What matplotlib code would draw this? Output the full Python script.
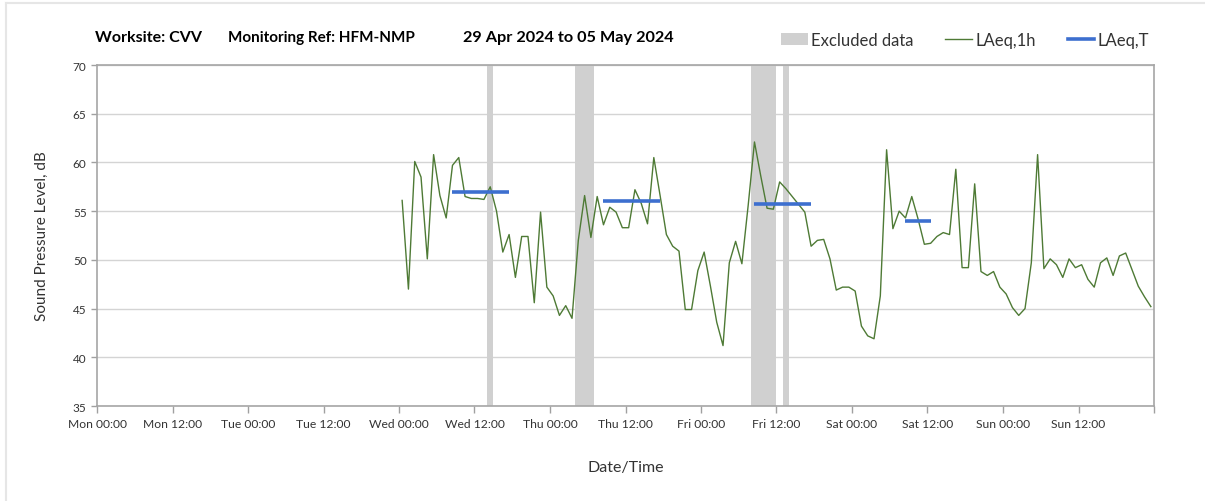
import matplotlib
matplotlib.use("Agg")
import matplotlib.pyplot as plt
from matplotlib.lines import Line2D
from matplotlib.patches import Patch
import numpy as np

plt.rcParams['font.family'] = ['Lato', 'DejaVu Sans']

# hourly LAeq,1h values, Wed 00:00 to Sun 23:00 (hours from Mon 00:00)
hours = np.arange(48, 168) + 0.5
laeq_1h = [
    56.1, 47.0, 60.1, 58.5, 50.1, 60.8, 56.6, 54.3, 59.7, 60.5,
    56.5, 56.3, 56.3, 56.2, 57.5, 55.0, 50.8, 52.6, 48.2, 52.4,
    52.4, 45.6, 54.9, 47.2, 46.3, 44.3, 45.3, 44.0, 52.0, 56.6,
    52.3, 56.5, 53.6, 55.4, 54.9, 53.3, 53.3, 57.2, 55.8, 53.7,
    60.5, 56.6, 52.6, 51.4, 50.9, 44.9, 44.9, 48.9, 50.8, 47.3,
    43.6, 41.2, 49.7, 51.9, 49.6, 55.6, 62.1, 58.6, 55.3, 55.2,
    58.0, 57.3, 56.5, 55.7, 54.9, 51.4, 52.0, 52.1, 50.1, 46.9,
    47.2, 47.2, 46.8, 43.2, 42.2, 41.9, 46.3, 61.3, 53.2, 55.0,
    54.3, 56.5, 54.2, 51.6, 51.7, 52.4, 52.8, 52.6, 59.3, 49.2,
    49.2, 57.8, 48.8, 48.4, 48.8, 47.2, 46.5, 45.1, 44.3, 45.0,
    49.7, 60.8, 49.1, 50.1, 49.5, 48.2, 50.1, 49.2, 49.5, 48.0,
    47.2, 49.7, 50.2, 48.4, 50.4, 50.7, 49.0, 47.3, 46.2, 45.2,
]

# LAeq,T daytime periods (start hour, end hour, level)
laeq_t_start = [56.5, 80.5, 104.5, 128.5]
laeq_t_end = [65.5, 89.5, 113.5, 132.5]
laeq_t_value = [57.0, 56.0, 55.7, 54.0]

# excluded data periods (start hour, end hour)
excl_start = [62, 76, 104, 109]
excl_end = [63, 79, 108, 110]

tick_labels = ['Mon 00:00', 'Mon 12:00', 'Tue 00:00', 'Tue 12:00',
               'Wed 00:00', 'Wed 12:00', 'Thu 00:00', 'Thu 12:00',
               'Fri 00:00', 'Fri 12:00', 'Sat 00:00', 'Sat 12:00',
               'Sun 00:00', 'Sun 12:00', '']

fig = plt.figure(figsize=(12.05, 5.02), dpi=100)
ax = fig.add_axes([97 / 1205, 1 - 407 / 502, (1154 - 97) / 1205, (407 - 66) / 502])

for s, e in zip(excl_start, excl_end):
    ax.axvspan(s, e, color='#d0d0d0', lw=0, zorder=1)

ax.plot(hours, laeq_1h, color='#4e7a35', lw=1.0, zorder=3)
for s, e, v in zip(laeq_t_start, laeq_t_end, laeq_t_value):
    ax.plot([s, e], [v, v], color='#3d6fcf', lw=2.6, solid_capstyle='butt', zorder=4)

ax.set_xlim(0, 168)
ax.set_ylim(35, 70)
ax.set_xticks(np.arange(0, 169, 12))
ax.set_xticklabels(tick_labels, fontsize=8.7, color='#333333')
ax.set_xticks(np.arange(0, 169, 24), minor=True)
ax.set_yticks(np.arange(35, 71, 5))
ax.tick_params(axis='y', labelsize=8.5, colors='#333333', length=4, color='#a0a0a0', width=1)
ax.tick_params(axis='x', which='major', length=5, color='#a0a0a0', width=1, pad=4)
ax.tick_params(axis='x', which='minor', length=0)
ax.grid(axis='y', color='#d4d4d4', lw=1)
ax.grid(axis='x', which='minor', color='#dcdcdc', lw=1)
ax.set_axisbelow(True)
for sp in ax.spines.values():
    sp.set_color('#a6a6a6')
    sp.set_linewidth(1.2)

ax.set_ylabel('Sound Pressure Level, dB', fontsize=11, color='#333333', labelpad=17)
ax.set_xlabel('Date/Time', fontsize=11.5, color='#333333', labelpad=22)

# title pieces
fig.text(95 / 1205, 1 - 38 / 502, 'Worksite: CVV', fontsize=11.5, fontweight='bold', va='center')
fig.text(228 / 1205, 1 - 38 / 502, 'Monitoring Ref: HFM-NMP', fontsize=11, fontweight='bold', va='center')
fig.text(463 / 1205, 1 - 38 / 502, '29 Apr 2024 to 05 May 2024', fontsize=11.7, fontweight='bold', va='center')

handles = [Patch(facecolor='#d0d0d0', edgecolor='none'),
           Line2D([], [], color='#4e7a35', lw=1.0),
           Line2D([], [], color='#3d6fcf', lw=2.6)]
fig.legend(handles, ['Excluded data', 'LAeq,1h', 'LAeq,T'], ncol=3, frameon=False,
           loc='center right', bbox_to_anchor=(1164 / 1205, 1 - 41 / 502),
           fontsize=12, handlelength=1.6, handletextpad=0.2, columnspacing=1.9,
           labelcolor='#333333')

# outer frame of the screenshot
fig.add_artist(Line2D([6 / 1205, 1], [1 - 4 / 502, 1 - 4 / 502], color='#e6e6e6', lw=1.5))
fig.add_artist(Line2D([6 / 1205, 6 / 1205], [0, 1 - 4 / 502], color='#e6e6e6', lw=1.5))

fig.savefig('out.png', dpi=100)
